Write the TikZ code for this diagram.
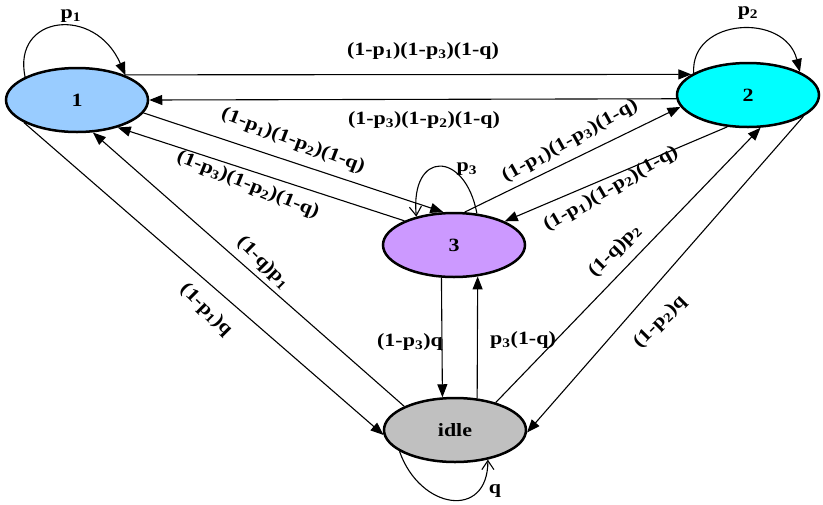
\documentclass[tikz,border=0pt]{standalone}
\usepackage{fontspec}
\setmainfont{Liberation Serif}
\usetikzlibrary{shapes.geometric,arrows.meta}
\newcommand{\psb}[1]{p\textsubscript{#1}}
\newcommand{\sx}[1]{\scalebox{1.22}[1.04]{#1}}
\definecolor{cone}{HTML}{99CCFF}
\definecolor{ctwo}{HTML}{00FFFF}
\definecolor{cthree}{HTML}{CC99FF}
\definecolor{cidle}{HTML}{C0C0C0}
\begin{document}
\begin{tikzpicture}[x=1pt,y=-1pt,
  state/.style={ellipse, draw, line width=2.5pt, minimum width=142pt, minimum height=64pt, inner sep=0pt, font=\fontsize{18}{20}\selectfont\bfseries},
  edge/.style={line width=1.1pt, -{Triangle[length=13pt,width=10pt]}},
  openedge/.style={line width=1.1pt, -{Straight Barb[length=9pt,width=12pt]}},
  lbl/.style={font=\fontsize{18}{20}\selectfont\bfseries, inner sep=0pt},
]
\useasboundingbox (0,0) rectangle (823,504);
\node[state, fill=cone] (n1) at (77,100) {\sx{1}};
\node[state, fill=ctwo] (n2) at (748,95) {\sx{2}};
\node[state, fill=cthree] (n3) at (454,245) {\sx{3}};
\node[state, fill=cidle] (idle) at (455,430) {\sx{idle}};

% self loops
\draw[edge] (n1.156) .. controls (12,15) and (95,5) .. (n1.27);
\draw[edge] (n2.158) .. controls (690,18) and (785,12) .. (n2.24);
\draw[openedge] (n3.54) .. controls (465,150) and (410,150) .. (n3.143);
\draw[openedge] (idle.201) .. controls (420,510) and (488,520) .. (idle.-42);

% top edges
\draw[edge] (n1.28.4) -- (n2.160);
\draw[edge] (n2.183.2) -- (n1.0.8);

% 1 <-> 3
\draw[edge] (n1.-11) -- (n3.108);
\draw[edge] (n3.154) -- (n1.-34);
% 3 <-> 2
\draw[edge] (n3.72) -- (n2.190.5);
\draw[edge] (n2.237.5) -- (n3.25);
% idle <-> 1
\draw[edge] (idle.155.6) -- (n1.-64);
\draw[edge] (n1.203) -- (idle.184);
% idle <-> 2
\draw[edge] (idle.34) -- (n2.-69.4);
\draw[edge] (n2.-21.3) -- (idle.-2.4);
% 3 <-> idle
\draw[edge] (n3.249.7) -- (idle.111.8);
\draw[edge] (idle.55) -- (n3.-53.6);

% labels
\node[lbl] (lp1) at (71,16) {\sx{\psb{1}}};
\node[lbl] (lp2) at (748,13) {\sx{\psb{2}}};
\node[lbl] (lp3) at (467,169) {\sx{\psb{3}}};
\node[lbl] (lq) at (495,491) {\sx{q}};
\node[lbl] (l12) at (423,51) {\sx{(1-\psb{1})(1-\psb{3})(1-q)}};
\node[lbl] (l21) at (424,120) {\sx{(1-\psb{3})(1-\psb{2})(1-q)}};
\node[lbl, rotate=-21] (l13) at (293,141) {\sx{(1-\psb{1})(1-\psb{2})(1-q)}};
\node[lbl, rotate=-22] (l31) at (248,185) {\sx{(1-\psb{3})(1-\psb{2})(1-q)}};
\node[lbl, rotate=29] (l32) at (570,141) {\sx{(1-\psb{1})(1-\psb{3})(1-q)}};
\node[lbl, rotate=30] (l23) at (611,189) {\sx{(1-\psb{1})(1-\psb{2})(1-q)}};
\node[lbl, rotate=-45] (li1) at (263,263) {\sx{(1-q)\psb{1}}};
\node[lbl, rotate=-45] (l1i) at (206,310) {\sx{(1-\psb{1})q}};
\node[lbl, rotate=45] (li2) at (615,251) {\sx{(1-q)\psb{2}}};
\node[lbl, rotate=45] (l2i) at (660,322) {\sx{(1-\psb{2})q}};
\node[lbl] (l3i) at (410,342) {\sx{(1-\psb{3})q}};
\node[lbl] (li3) at (523,340) {\sx{\psb{3}(1-q)}};
\end{tikzpicture}
\end{document}
